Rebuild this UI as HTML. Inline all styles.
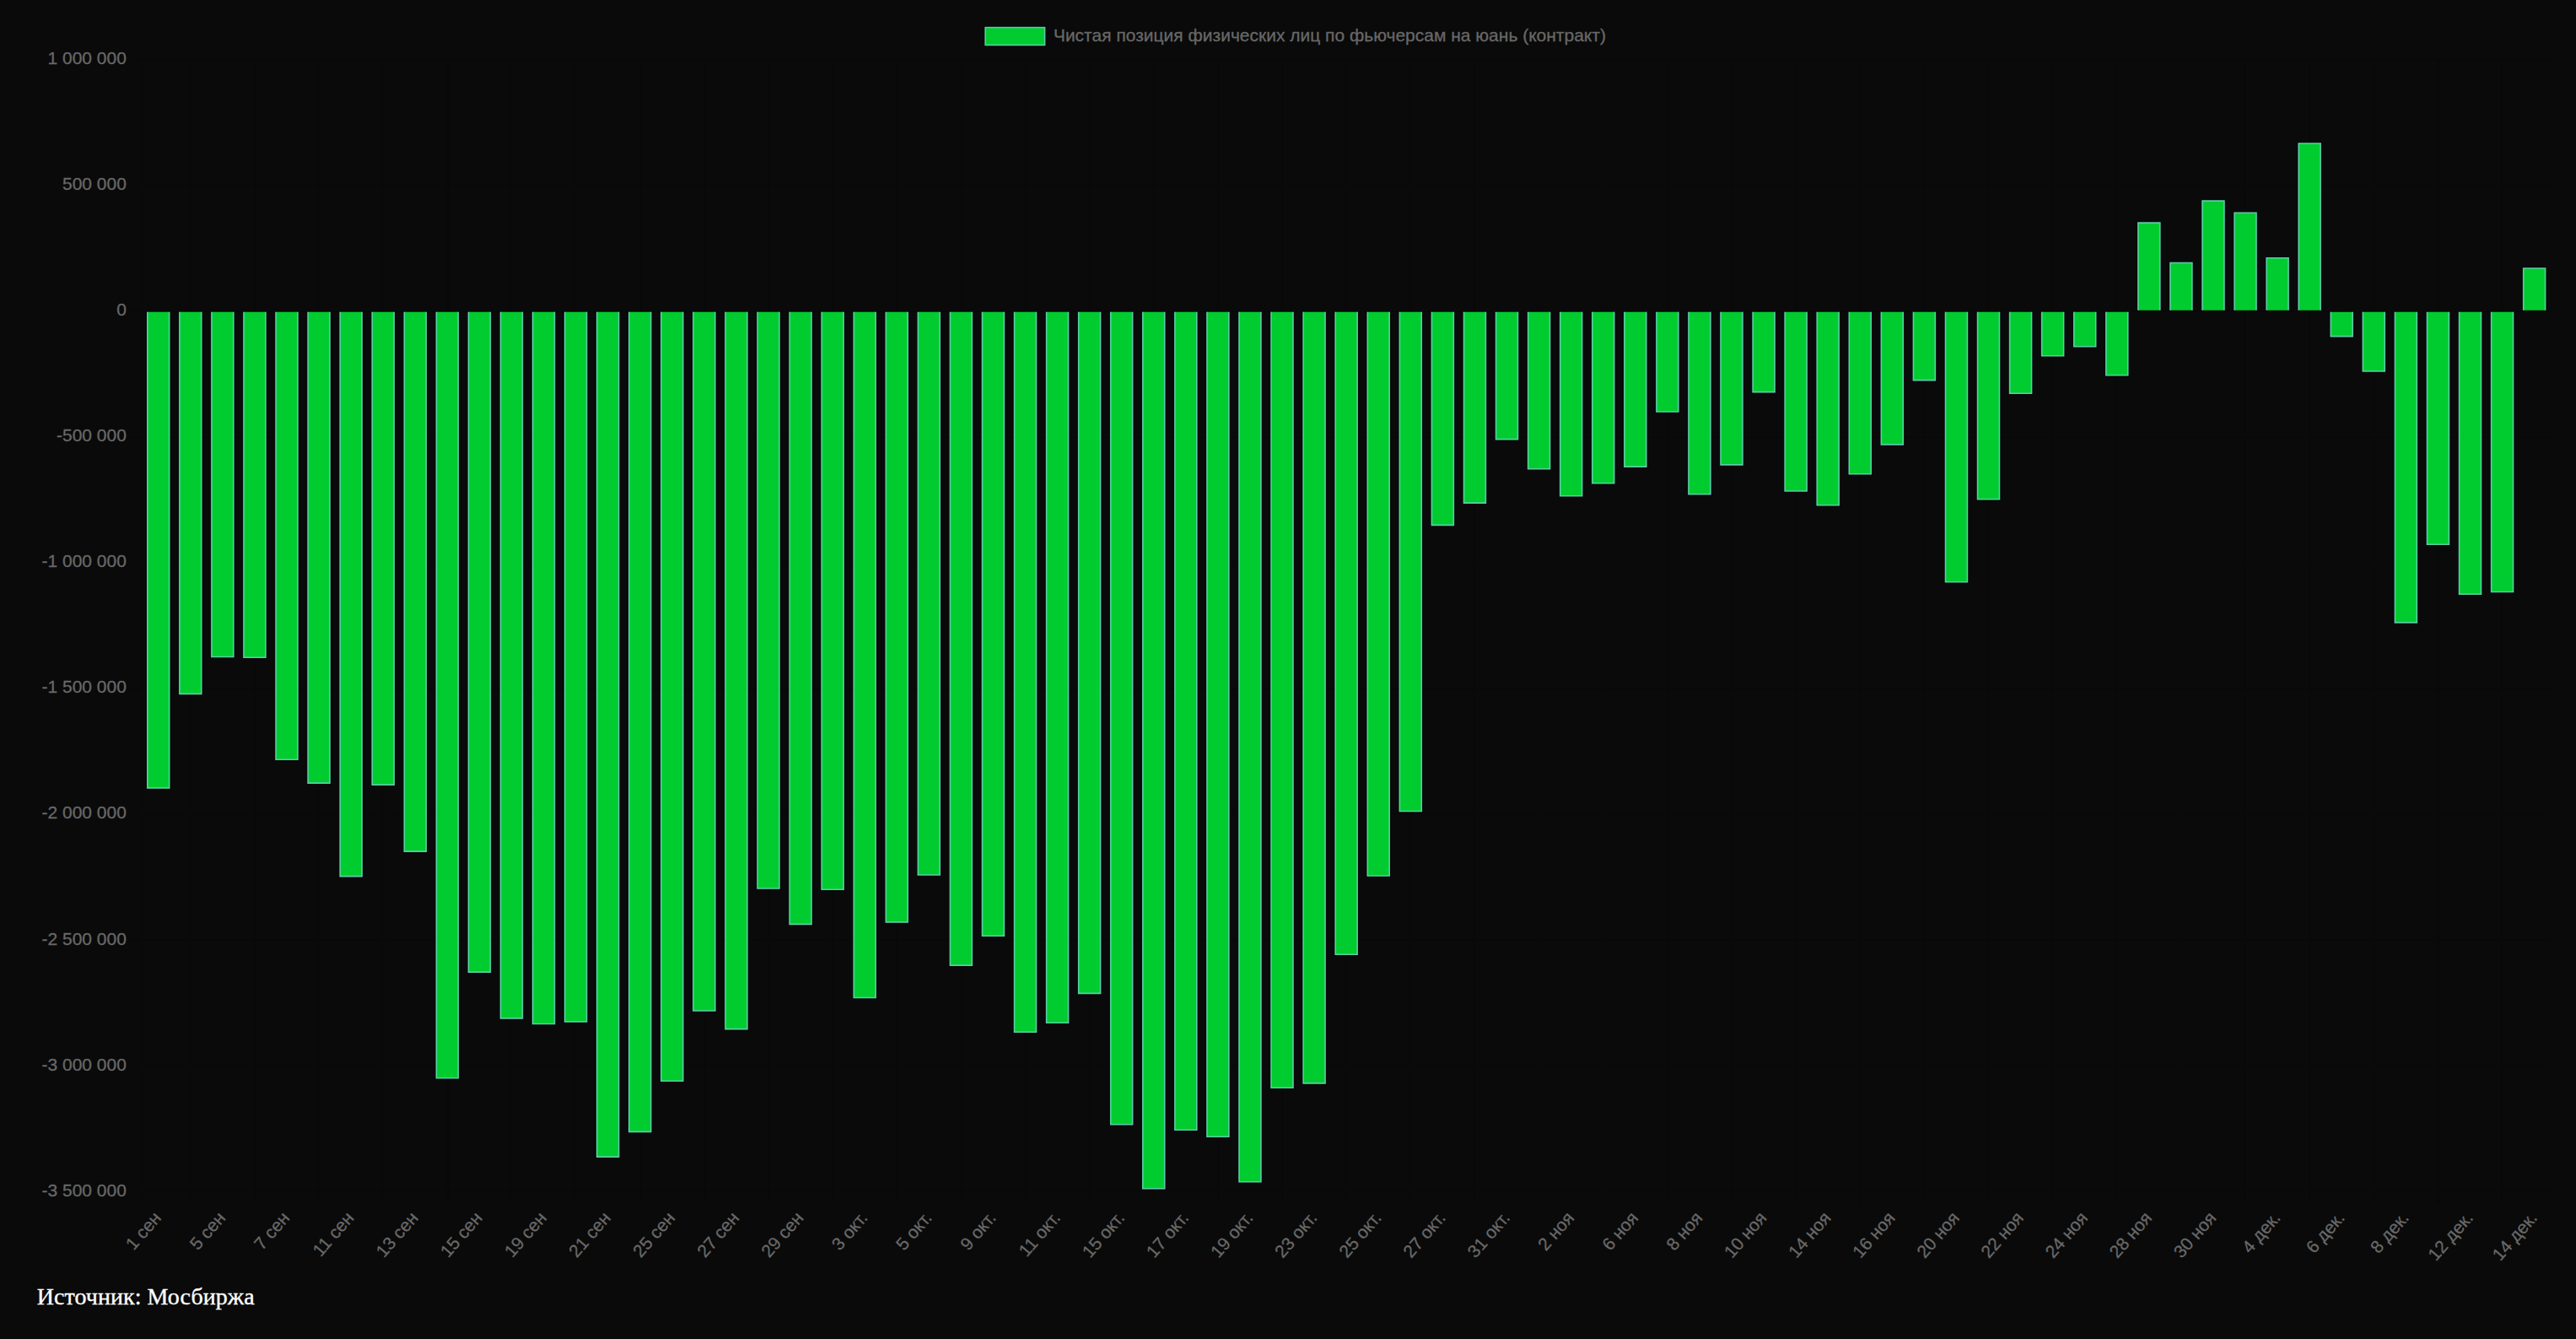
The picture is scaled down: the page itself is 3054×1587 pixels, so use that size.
<!DOCTYPE html>
<html lang="ru"><head><meta charset="utf-8"><title>Чистая позиция физических лиц по фьючерсам на юань</title>
<style>html,body{margin:0;padding:0;background:#0a0a0a;}body{width:3054px;height:1587px;overflow:hidden;position:relative;font-family:"Liberation Sans",sans-serif;}
svg{position:absolute;left:0;top:0;display:block;}svg text{font-family:"Liberation Sans",sans-serif;font-size:21px;fill:#686868;stroke:#686868;stroke-width:0.3px;}
.src{position:absolute;left:43.75px;top:1521px;letter-spacing:0.06px;-webkit-text-stroke:0.35px #fff;margin:0;font-family:"Liberation Serif",serif;font-size:28px;line-height:32px;color:#fff;white-space:nowrap;}
</style></head><body>
<svg width="3054" height="1587" viewBox="0 0 3054 1587">
<rect width="3054" height="1587" fill="#0a0a0a"/>
<path d="M154.72 70.61H3023.67M154.72 219.68H3023.67M154.72 368.75H3023.67M154.72 517.82H3023.67M154.72 666.89H3023.67M154.72 815.96H3023.67M154.72 965.03H3023.67M154.72 1114.10H3023.67M154.72 1263.17H3023.67M154.72 1412.24H3023.67M168.72 70.61V1426.24M225.82 70.61V1426.24M301.95 70.61V1426.24M378.08 70.61V1426.24M454.21 70.61V1426.24M530.34 70.61V1426.24M606.48 70.61V1426.24M682.61 70.61V1426.24M758.74 70.61V1426.24M834.87 70.61V1426.24M911.00 70.61V1426.24M987.14 70.61V1426.24M1063.27 70.61V1426.24M1139.40 70.61V1426.24M1215.53 70.61V1426.24M1291.66 70.61V1426.24M1367.80 70.61V1426.24M1443.93 70.61V1426.24M1520.06 70.61V1426.24M1596.19 70.61V1426.24M1672.32 70.61V1426.24M1748.46 70.61V1426.24M1824.59 70.61V1426.24M1900.72 70.61V1426.24M1976.85 70.61V1426.24M2052.98 70.61V1426.24M2129.12 70.61V1426.24M2205.25 70.61V1426.24M2281.38 70.61V1426.24M2357.51 70.61V1426.24M2433.64 70.61V1426.24M2509.78 70.61V1426.24M2585.91 70.61V1426.24M2662.04 70.61V1426.24M2738.17 70.61V1426.24M2814.30 70.61V1426.24M2890.44 70.61V1426.24M2966.57 70.61V1426.24" stroke="#090909" stroke-width="1.75" fill="none"/>
<g fill="#00cc30" stroke="#5acda5" stroke-width="1.60">
<path d="M174.80 369.80V933.90H200.70V369.80"/>
<path d="M212.87 369.80V822.40H238.77V369.80"/>
<path d="M250.93 369.80V778.50H276.83V369.80"/>
<path d="M289.00 369.80V779.30H314.90V369.80"/>
<path d="M327.06 369.80V900.20H352.96V369.80"/>
<path d="M365.13 369.80V928.10H391.03V369.80"/>
<path d="M403.20 369.80V1038.60H429.10V369.80"/>
<path d="M441.26 369.80V930.10H467.16V369.80"/>
<path d="M479.33 369.80V1009.10H505.23V369.80"/>
<path d="M517.39 369.80V1277.80H543.29V369.80"/>
<path d="M555.46 369.80V1152.10H581.36V369.80"/>
<path d="M593.53 369.80V1206.90H619.43V369.80"/>
<path d="M631.59 369.80V1213.50H657.49V369.80"/>
<path d="M669.66 369.80V1210.90H695.56V369.80"/>
<path d="M707.72 369.80V1371.10H733.62V369.80"/>
<path d="M745.79 369.80V1341.40H771.69V369.80"/>
<path d="M783.86 369.80V1281.20H809.76V369.80"/>
<path d="M821.92 369.80V1198.00H847.82V369.80"/>
<path d="M859.99 369.80V1219.60H885.89V369.80"/>
<path d="M898.05 369.80V1053.00H923.95V369.80"/>
<path d="M936.12 369.80V1095.40H962.02V369.80"/>
<path d="M974.19 369.80V1054.20H1000.09V369.80"/>
<path d="M1012.25 369.80V1182.50H1038.15V369.80"/>
<path d="M1050.32 369.80V1092.90H1076.22V369.80"/>
<path d="M1088.38 369.80V1037.00H1114.28V369.80"/>
<path d="M1126.45 369.80V1144.10H1152.35V369.80"/>
<path d="M1164.52 369.80V1109.20H1190.42V369.80"/>
<path d="M1202.58 369.80V1223.20H1228.48V369.80"/>
<path d="M1240.65 369.80V1212.20H1266.55V369.80"/>
<path d="M1278.71 369.80V1177.40H1304.61V369.80"/>
<path d="M1316.78 369.80V1332.70H1342.68V369.80"/>
<path d="M1354.85 369.80V1408.70H1380.75V369.80"/>
<path d="M1392.91 369.80V1339.20H1418.81V369.80"/>
<path d="M1430.98 369.80V1347.30H1456.88V369.80"/>
<path d="M1469.04 369.80V1400.80H1494.94V369.80"/>
<path d="M1507.11 369.80V1289.20H1533.01V369.80"/>
<path d="M1545.18 369.80V1283.90H1571.08V369.80"/>
<path d="M1583.24 369.80V1131.20H1609.14V369.80"/>
<path d="M1621.31 369.80V1038.00H1647.21V369.80"/>
<path d="M1659.37 369.80V961.50H1685.27V369.80"/>
<path d="M1697.44 369.80V622.40H1723.34V369.80"/>
<path d="M1735.51 369.80V596.10H1761.41V369.80"/>
<path d="M1773.57 369.80V520.60H1799.47V369.80"/>
<path d="M1811.64 369.80V555.70H1837.54V369.80"/>
<path d="M1849.70 369.80V587.70H1875.60V369.80"/>
<path d="M1887.77 369.80V572.70H1913.67V369.80"/>
<path d="M1925.84 369.80V553.10H1951.74V369.80"/>
<path d="M1963.90 369.80V488.00H1989.80V369.80"/>
<path d="M2001.97 369.80V585.80H2027.87V369.80"/>
<path d="M2040.03 369.80V550.90H2065.93V369.80"/>
<path d="M2078.10 369.80V464.60H2104.00V369.80"/>
<path d="M2116.17 369.80V582.00H2142.07V369.80"/>
<path d="M2154.23 369.80V598.70H2180.13V369.80"/>
<path d="M2192.30 369.80V561.80H2218.20V369.80"/>
<path d="M2230.36 369.80V526.90H2256.26V369.80"/>
<path d="M2268.43 369.80V450.60H2294.33V369.80"/>
<path d="M2306.50 369.80V689.70H2332.40V369.80"/>
<path d="M2344.56 369.80V591.70H2370.46V369.80"/>
<path d="M2382.63 369.80V466.20H2408.53V369.80"/>
<path d="M2420.69 369.80V421.70H2446.59V369.80"/>
<path d="M2458.76 369.80V410.70H2484.66V369.80"/>
<path d="M2496.83 369.80V444.70H2522.73V369.80"/>
<path d="M2534.89 367.70V264.10H2560.79V367.70"/>
<path d="M2572.96 367.70V311.50H2598.86V367.70"/>
<path d="M2611.02 367.70V238.10H2636.92V367.70"/>
<path d="M2649.09 367.70V252.20H2674.99V367.70"/>
<path d="M2687.16 367.70V305.80H2713.06V367.70"/>
<path d="M2725.22 367.70V170.00H2751.12V367.70"/>
<path d="M2763.29 369.80V398.60H2789.19V369.80"/>
<path d="M2801.35 369.80V440.00H2827.25V369.80"/>
<path d="M2839.42 369.80V737.90H2865.32V369.80"/>
<path d="M2877.49 369.80V645.30H2903.39V369.80"/>
<path d="M2915.55 369.80V704.30H2941.45V369.80"/>
<path d="M2953.62 369.80V701.50H2979.52V369.80"/>
<path d="M2991.68 367.70V318.00H3017.58V367.70"/>
</g>
<rect x="1168.2" y="32.6" width="70.4" height="20.8" fill="#00cc30" stroke="#5acda5" stroke-width="1.60"/>
<text x="1248.9" y="49.0">Чистая позиция физических лиц по фьючерсам на юань (контракт)</text>
<g text-anchor="end">
<text x="149.90" y="76.01">1 000 000</text>
<text x="149.90" y="225.08">500 000</text>
<text x="149.90" y="374.15">0</text>
<text x="149.90" y="523.22">-500 000</text>
<text x="149.90" y="672.29">-1 000 000</text>
<text x="149.90" y="821.36">-1 500 000</text>
<text x="149.90" y="970.43">-2 000 000</text>
<text x="149.90" y="1119.50">-2 500 000</text>
<text x="149.90" y="1268.57">-3 000 000</text>
<text x="149.90" y="1417.64">-3 500 000</text>
</g>
<g text-anchor="end">
<text transform="translate(186.75 1439.40) rotate(-48.8)" x="0" y="7.30">1 сен</text>
<text transform="translate(262.88 1439.40) rotate(-48.8)" x="0" y="7.30">5 сен</text>
<text transform="translate(339.01 1439.40) rotate(-48.8)" x="0" y="7.30">7 сен</text>
<text transform="translate(415.15 1439.40) rotate(-48.8)" x="0" y="7.30">11 сен</text>
<text transform="translate(491.28 1439.40) rotate(-48.8)" x="0" y="7.30">13 сен</text>
<text transform="translate(567.41 1439.40) rotate(-48.8)" x="0" y="7.30">15 сен</text>
<text transform="translate(643.54 1439.40) rotate(-48.8)" x="0" y="7.30">19 сен</text>
<text transform="translate(719.67 1439.40) rotate(-48.8)" x="0" y="7.30">21 сен</text>
<text transform="translate(795.81 1439.40) rotate(-48.8)" x="0" y="7.30">25 сен</text>
<text transform="translate(871.94 1439.40) rotate(-48.8)" x="0" y="7.30">27 сен</text>
<text transform="translate(948.07 1439.40) rotate(-48.8)" x="0" y="7.30">29 сен</text>
<text transform="translate(1024.20 1439.40) rotate(-48.8)" x="0" y="7.30">3 окт.</text>
<text transform="translate(1100.33 1439.40) rotate(-48.8)" x="0" y="7.30">5 окт.</text>
<text transform="translate(1176.47 1439.40) rotate(-48.8)" x="0" y="7.30">9 окт.</text>
<text transform="translate(1252.60 1439.40) rotate(-48.8)" x="0" y="7.30">11 окт.</text>
<text transform="translate(1328.73 1439.40) rotate(-48.8)" x="0" y="7.30">15 окт.</text>
<text transform="translate(1404.86 1439.40) rotate(-48.8)" x="0" y="7.30">17 окт.</text>
<text transform="translate(1480.99 1439.40) rotate(-48.8)" x="0" y="7.30">19 окт.</text>
<text transform="translate(1557.13 1439.40) rotate(-48.8)" x="0" y="7.30">23 окт.</text>
<text transform="translate(1633.26 1439.40) rotate(-48.8)" x="0" y="7.30">25 окт.</text>
<text transform="translate(1709.39 1439.40) rotate(-48.8)" x="0" y="7.30">27 окт.</text>
<text transform="translate(1785.52 1439.40) rotate(-48.8)" x="0" y="7.30">31 окт.</text>
<text transform="translate(1861.65 1439.40) rotate(-48.8)" x="0" y="7.30">2 ноя</text>
<text transform="translate(1937.79 1439.40) rotate(-48.8)" x="0" y="7.30">6 ноя</text>
<text transform="translate(2013.92 1439.40) rotate(-48.8)" x="0" y="7.30">8 ноя</text>
<text transform="translate(2090.05 1439.40) rotate(-48.8)" x="0" y="7.30">10 ноя</text>
<text transform="translate(2166.18 1439.40) rotate(-48.8)" x="0" y="7.30">14 ноя</text>
<text transform="translate(2242.31 1439.40) rotate(-48.8)" x="0" y="7.30">16 ноя</text>
<text transform="translate(2318.45 1439.40) rotate(-48.8)" x="0" y="7.30">20 ноя</text>
<text transform="translate(2394.58 1439.40) rotate(-48.8)" x="0" y="7.30">22 ноя</text>
<text transform="translate(2470.71 1439.40) rotate(-48.8)" x="0" y="7.30">24 ноя</text>
<text transform="translate(2546.84 1439.40) rotate(-48.8)" x="0" y="7.30">28 ноя</text>
<text transform="translate(2622.97 1439.40) rotate(-48.8)" x="0" y="7.30">30 ноя</text>
<text transform="translate(2699.11 1439.40) rotate(-48.8)" x="0" y="7.30">4 дек.</text>
<text transform="translate(2775.24 1439.40) rotate(-48.8)" x="0" y="7.30">6 дек.</text>
<text transform="translate(2851.37 1439.40) rotate(-48.8)" x="0" y="7.30">8 дек.</text>
<text transform="translate(2927.50 1439.40) rotate(-48.8)" x="0" y="7.30">12 дек.</text>
<text transform="translate(3003.63 1439.40) rotate(-48.8)" x="0" y="7.30">14 дек.</text>
</g>
</svg>
<p class="src">Источник: Мосбиржа</p>
</body></html>
